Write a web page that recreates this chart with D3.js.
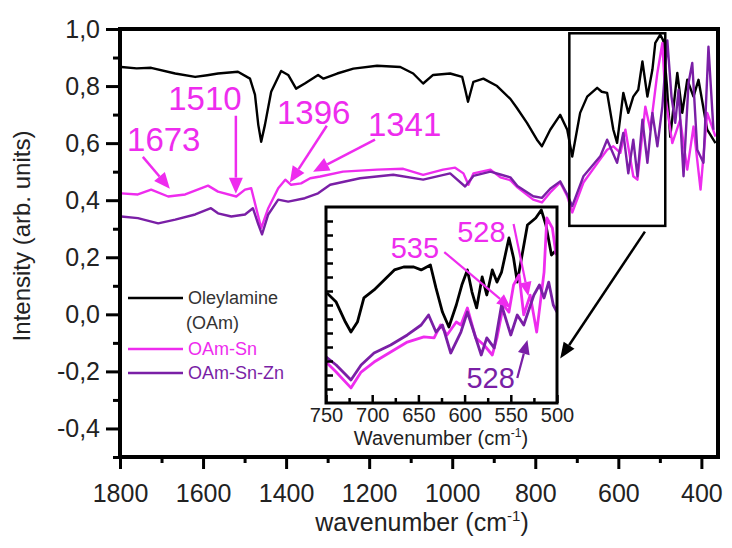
<!DOCTYPE html>
<html><head><meta charset="utf-8">
<script src="https://cdn.jsdelivr.net/npm/d3@7"></script>
<style>
body{margin:0;background:#fff;}
text{font-family:"Liberation Sans",Arial,sans-serif;}
</style></head><body>
<svg id="chart" width="732" height="548"></svg>
<script>
// main spectra: [wavenumber, intensity]
const oleylamine = [[1797,.867],[1760,.862],[1725,.864],[1667,.844],[1619,.832],[1590,.838],[1564,.844],[1516,.85],[1487,.826],[1475,.77],[1467,.664],[1460,.605],[1451,.664],[1436,.78],[1412,.853],[1395,.839],[1376,.791],[1355,.809],[1323,.839],[1310,.826],[1277,.844],[1238,.861],[1181,.871],[1125,.867],[1094,.844],[1070,.809],[1046,.839],[1005,.844],[976,.832],[969,.79],[962,.745],[949,.815],[925,.826],[892,.80],[860,.755],[845,.725],[820,.671],[796,.612],[784,.589],[764,.647],[740,.699],[723,.647],[711,.553],[692,.706],[675,.763],[651,.794],[640,.78],[627,.776],[612,.647],[603,.601],[588,.776],[576,.706],[564,.763],[552,.787],[542,.886],[530,.763],[518,.857],[511,.951],[499,.98],[492,.96],[483,.80],[475,.622],[458,.846],[446,.706],[434,.822],[419,.763],[407,.822],[386,.647],[366,.60]];
const oamSn = [[1797,.424],[1757,.42],[1725,.437],[1684,.413],[1643,.42],[1588,.451],[1564,.43],[1520,.413],[1499,.437],[1484,.442],[1472,.372],[1460,.302],[1443,.372],[1419,.442],[1402,.472],[1388,.454],[1364,.459],[1342,.477],[1318,.483],[1263,.50],[1181,.507],[1118,.51],[1070,.489],[1022,.507],[993,.514],[973,.494],[961,.454],[949,.494],[908,.507],[884,.48],[860,.47],[843,.445],[805,.402],[784,.392],[764,.427],[740,.462],[723,.414],[711,.357],[684,.462],[643,.545],[627,.577],[612,.589],[595,.566],[583,.647],[564,.484],[554,.472],[535,.728],[523,.647],[506,.846],[494,.951],[487,.763],[470,.60],[451,.682],[434,.507],[419,.658],[402,.437],[386,.706],[366,.623]];
const oamSnZn = [[1797,.343],[1757,.337],[1708,.319],[1667,.332],[1619,.35],[1581,.372],[1564,.354],[1532,.343],[1499,.35],[1480,.372],[1467,.315],[1458,.28],[1443,.35],[1419,.402],[1395,.395],[1355,.407],[1323,.424],[1294,.454],[1222,.477],[1142,.489],[1070,.472],[1005,.494],[969,.448],[949,.485],[908,.50],[884,.49],[860,.48],[843,.45],[805,.414],[784,.408],[764,.44],[740,.466],[723,.42],[711,.379],[684,.484],[643,.555],[627,.612],[603,.531],[588,.636],[576,.494],[564,.612],[554,.484],[542,.682],[530,.531],[518,.706],[506,.589],[494,.728],[482,.96],[472,.763],[463,.671],[455,.787],[443,.484],[431,.811],[422,.881],[410,.577],[395,.531],[383,.938],[371,.647]];

// inset spectra (750-500 cm-1), relative intensity 0..1
const insetOam = [[749,.561],[739,.515],[729,.413],[723,.362],[716,.413],[709,.536],[698,.577],[687,.628],[676,.679],[666,.694],[655,.694],[647,.679],[637,.704],[631,.587],[624,.464],[617,.388],[609,.50],[603,.602],[597,.679],[592,.566],[587,.485],[581,.643],[576,.551],[570,.679],[565,.617],[560,.668],[552,.842],[547,.74],[543,.617],[532,.908],[523,.944],[517,.985],[512,.908],[506,.755],[501,.78]];
const insetSn = [[750,.209],[739,.158],[723,.077],[712,.158],[698,.209],[680,.26],[662,.311],[644,.337],[633,.332],[626,.398],[619,.347],[609,.413],[604,.398],[597,.485],[588,.332],[579,.296],[570,.245],[565,.332],[558,.50],[552,.464],[547,.602],[541,.653],[536,.45],[529,.55],[522,.362],[514,.668],[511,.944],[505,.893],[501,.755]];
const insetSnZn = [[750,.235],[739,.194],[723,.117],[712,.194],[698,.255],[680,.296],[662,.347],[647,.398],[639,.449],[631,.362],[624,.398],[615,.255],[604,.362],[597,.464],[590,.362],[582,.245],[576,.332],[568,.281],[560,.50],[550,.347],[543,.449],[536,.398],[525,.551],[519,.602],[514,.536],[509,.617],[504,.50],[500,.464]];

const xTicks = [1800,1600,1400,1200,1000,800,600,400];
const xMinor = [1700,1500,1300,1100,900,700,500];
const yTicks = [-0.4,-0.2,0,0.2,0.4,0.6,0.8,1.0];
const yMinor = [-0.5,-0.3,-0.1,0.1,0.3,0.5,0.7,0.9];
const insetXTicks = [750,700,650,600,550,500];
const insetXMinor = [725,675,625,575,525];

const seriesNames = ["Oleylamine", "OAm-Sn", "OAm-Sn-Zn"];
const colors = ["#000000", "#ee2cee", "#7a1fa6"];

// peak labels: text position, arrow tail, arrow tip (data units)
const mainNotes = [
  {label:"1673", at:[1783,.573], from:[1745,.552], to:[1680,.44]},
  {label:"1510", at:[1684,.717], from:[1521,.696], to:[1521,.423]},
  {label:"1396", at:[1422,.668], from:[1302,.661], to:[1391,.462]},
  {label:"1341", at:[1203,.626], from:[1186,.612], to:[1335,.50]}
];
const insetNotes = [
  {label:"535", at:[680,.74], from:[622,.77], to:[550,.485], c:1},
  {label:"528", at:[608,.82], from:[547,.913], to:[531,.546], c:1},
  {label:"528", at:[598,.077], from:[543,.128], to:[532,.321], c:2}
];

const svg = d3.select("#chart");
const P = {left:120, right:718, top:29, bottom:457};
const x = d3.scaleLinear().domain([1800,360]).range([P.left,P.right]);
const y = d3.scaleLinear().domain([-0.5,1.0]).range([P.bottom,P.top]);

svg.append("clipPath").attr("id","clipMain")
  .append("rect").attr("x",P.left).attr("y",P.top)
  .attr("width",P.right-P.left).attr("height",P.bottom-P.top);

const line = d3.line().x(d => x(d[0])).y(d => y(d[1]));
const curves = svg.append("g").attr("clip-path","url(#clipMain)");
[oleylamine, oamSn, oamSnZn].forEach((s,i) => {
  curves.append("path").datum(s)
    .attr("d", line).attr("fill","none")
    .attr("stroke", colors[i]).attr("stroke-width",2.4)
    .attr("stroke-linejoin","round");
});

// axes
function styleAxis(g, fs) {
  g.select(".domain").remove();
  g.selectAll("line").attr("stroke","#000").attr("stroke-width",3);
  g.selectAll("text").attr("fill","#222").style("font-size",fs);
}
svg.append("g").attr("transform",`translate(0,${P.bottom})`)
  .call(d3.axisBottom(x).tickValues(xTicks).tickSize(12).tickPadding(15).tickFormat(d => d))
  .call(g => styleAxis(g,"25px"));
svg.append("g").attr("transform",`translate(0,${P.bottom})`)
  .call(d3.axisBottom(x).tickValues(xMinor).tickSize(6).tickFormat(""))
  .call(g => styleAxis(g,"25px"));
svg.append("g").attr("transform",`translate(${P.left},0)`)
  .call(d3.axisLeft(y).tickValues(yTicks).tickSize(14).tickPadding(6)
    .tickFormat(d => d3.format(".1f")(d).replace(".", ",").replace("−","-")))
  .call(g => styleAxis(g,"25px"));
svg.append("g").attr("transform",`translate(${P.left},0)`)
  .call(d3.axisLeft(y).tickValues(yMinor).tickSize(7).tickFormat(""))
  .call(g => styleAxis(g,"25px"));

svg.append("rect").attr("x",P.left).attr("y",P.top)
  .attr("width",P.right-P.left).attr("height",P.bottom-P.top)
  .attr("fill","none").attr("stroke","#000").attr("stroke-width",4);

// axis titles
const xt = svg.append("text").attr("x",422).attr("y",531)
  .attr("text-anchor","middle").style("font-size","25px").attr("fill","#222");
xt.append("tspan").text("wavenumber (cm");
xt.append("tspan").attr("dy",-10).style("font-size","15px").text("-1");
xt.append("tspan").attr("dy",10).text(")");

svg.append("text").attr("transform","translate(30,236) rotate(-90)")
  .attr("text-anchor","middle").style("font-size","24px").attr("fill","#222")
  .text("Intensity (arb. units)");

// zoom box on main chart
svg.append("rect").attr("x",x(718)).attr("y",y(0.985))
  .attr("width",x(487)-x(718)).attr("height",y(0.31)-y(0.985))
  .attr("fill","none").attr("stroke","#000").attr("stroke-width",2.5);

// arrows
function arrow(g, x1, y1, x2, y2, color, len, wid, sw) {
  const a = Math.atan2(y2-y1, x2-x1);
  const bx = x2 - len*Math.cos(a), by = y2 - len*Math.sin(a);
  g.append("line").attr("x1",x1).attr("y1",y1).attr("x2",bx).attr("y2",by)
    .attr("stroke",color).attr("stroke-width",sw);
  const px = -Math.sin(a)*wid/2, py = Math.cos(a)*wid/2;
  g.append("path")
    .attr("d",`M${x2},${y2}L${bx+px},${by+py}L${bx-px},${by-py}Z`)
    .attr("fill",color);
}

const notes = svg.append("g");
mainNotes.forEach(n => {
  notes.append("text").attr("x",x(n.at[0])).attr("y",y(n.at[1]))
    .style("font-size","33px").attr("fill",colors[1]).text(n.label);
  arrow(notes, x(n.from[0]), y(n.from[1]), x(n.to[0]), y(n.to[1]), colors[1], 16, 14, 2.5);
});

// black arrow from zoom box to inset
arrow(svg, x(536), y(0.29), x(740), y(-0.155), "#000", 16, 13, 2.5);

// legend
const leg = svg.append("g");
const legRows = [298, 349, 373];
seriesNames.forEach((name,i) => {
  leg.append("line").attr("x1",128).attr("x2",183).attr("y1",legRows[i]).attr("y2",legRows[i])
    .attr("stroke",colors[i]).attr("stroke-width",2.5);
  leg.append("text").attr("x",188).attr("y",legRows[i]).attr("dy","0.35em")
    .style("font-size","18px").attr("fill", i === 0 ? "#333" : colors[i]).text(name);
});
leg.append("text").attr("x",186).attr("y",323).attr("dy","0.35em")
  .style("font-size","18px").attr("fill","#333").text("(OAm)");

// inset
const I = {left:326, right:557, top:207, bottom:403};
const ix = d3.scaleLinear().domain([750,500]).range([I.left,I.right]);
const iy = d3.scaleLinear().domain([0,1]).range([I.bottom,I.top]);
const inset = svg.append("g");
inset.append("rect").attr("x",I.left).attr("y",I.top)
  .attr("width",I.right-I.left).attr("height",I.bottom-I.top).attr("fill","#fff");

inset.append("clipPath").attr("id","clipInset")
  .append("rect").attr("x",I.left).attr("y",I.top)
  .attr("width",I.right-I.left).attr("height",I.bottom-I.top);
const iline = d3.line().x(d => ix(d[0])).y(d => iy(d[1]));
const ic = inset.append("g").attr("clip-path","url(#clipInset)");
[insetOam, insetSn, insetSnZn].forEach((s,i) => {
  ic.append("path").datum(s).attr("d", iline).attr("fill","none")
    .attr("stroke",colors[i]).attr("stroke-width",2.8).attr("stroke-linejoin","round");
});

inset.append("g").attr("transform",`translate(0,${I.bottom})`)
  .call(d3.axisTop(ix).tickValues(insetXTicks).tickSize(8).tickFormat(""))
  .call(g => styleAxis(g,"20px"));
inset.append("g").attr("transform",`translate(0,${I.bottom})`)
  .call(d3.axisTop(ix).tickValues(insetXMinor).tickSize(5).tickFormat(""))
  .call(g => styleAxis(g,"20px"));
inset.append("g").attr("transform",`translate(0,${I.bottom})`)
  .call(d3.axisBottom(ix).tickValues(insetXTicks).tickSize(0).tickPadding(5).tickFormat(d => d))
  .call(g => styleAxis(g,"20px"));
const insetYTicks = d3.range(1,14).map(i => i/14);
inset.append("g").attr("transform",`translate(${I.left},0)`)
  .call(d3.axisRight(iy).tickValues(insetYTicks).tickSize(7).tickFormat(""))
  .call(g => styleAxis(g,"20px"));
inset.selectAll("line").attr("stroke-width",2.5);

inset.append("rect").attr("x",I.left).attr("y",I.top)
  .attr("width",I.right-I.left).attr("height",I.bottom-I.top)
  .attr("fill","none").attr("stroke","#000").attr("stroke-width",3);

const it = inset.append("text").attr("x",441).attr("y",445)
  .attr("text-anchor","middle").style("font-size","20px").attr("fill","#222");
it.append("tspan").text("Wavenumber (cm");
it.append("tspan").attr("dy",-8).style("font-size","12px").text("-1");
it.append("tspan").attr("dy",8).text(")");

insetNotes.forEach(n => {
  inset.append("text").attr("x",ix(n.at[0])).attr("y",iy(n.at[1]))
    .style("font-size","29px").attr("fill",colors[n.c]).text(n.label);
  arrow(inset, ix(n.from[0]), iy(n.from[1]), ix(n.to[0]), iy(n.to[1]), colors[n.c], 14, 12, 2.2);
});
</script>
</body></html>
